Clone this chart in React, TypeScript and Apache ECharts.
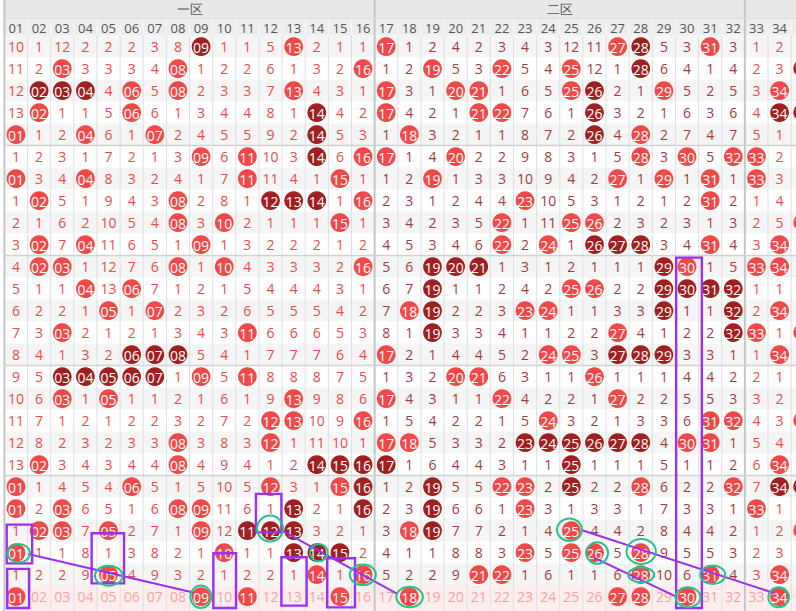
import React, { useEffect, useRef } from "react";
import * as echarts from "echarts";

// ---------- data ----------
const columnLabels = [
  "01", "02", "03", "04", "05", "06", "07", "08", "09", "10", "11", "12",
  "13", "14", "15", "16", "17", "18", "19", "20", "21", "22", "23", "24",
  "25", "26", "27", "28", "29", "30", "31", "32", "33", "34",
];
const zoneLabels = ["一区", "二区"];
const zoneFirstColumn = [1, 17];
const zoneLastColumn = [16, 32];

// One row per draw. number = omission count, R = drawn, D = drawn (dark mark)
const drawRows = [
  "10 1 12 2 2 2 3 8 D 1 1 5 R 2 1 1 R 1 2 4 2 3 4 3 12 11 R D 5 3 R 3 1 2",
  "11 2 R 3 3 3 4 R 1 2 2 6 1 3 2 R 1 2 R 5 3 R 5 4 R 12 1 D 6 4 1 4 2 3",
  "12 D D D 4 R 5 R 2 3 3 7 R 4 3 1 R 3 1 R R 1 6 5 R D 2 1 R 5 2 5 3 R",
  "13 R 1 1 5 R 6 1 3 4 4 8 1 D 4 2 R 4 2 1 R R 7 6 1 D 3 2 1 6 3 6 4 D",
  "R 1 2 R 6 1 R 2 4 5 5 9 2 D 5 3 1 R 3 2 1 1 8 7 2 D 4 R 2 7 4 7 5 1",
  "1 2 3 1 7 2 1 3 R 6 R 10 3 D 6 R R 1 4 R 2 2 9 8 3 1 5 R 3 R 5 R R 2",
  "R 3 4 R 8 3 2 4 1 7 R 11 4 1 R 1 1 2 R 1 3 3 10 9 4 2 R 1 R 1 R 1 R 3",
  "1 R 5 1 9 4 3 R 2 8 1 D D D 1 R 2 3 1 2 4 4 R 10 5 3 1 2 1 2 R 2 1 4",
  "2 1 6 2 10 5 4 R 3 R 2 1 1 1 R 1 3 4 2 3 5 R 1 11 R R 2 3 2 3 1 3 2 5",
  "3 R 7 R 11 6 5 1 R 1 3 2 2 2 1 2 4 5 3 4 6 R 2 R 1 D D D 3 4 R 4 3 R",
  "4 R R 1 12 7 6 R 1 R 4 3 3 3 2 R 5 6 D D D 1 3 1 2 1 1 1 D R 1 5 R R",
  "5 1 1 R 13 R 7 1 2 1 5 4 4 4 3 1 6 7 D 1 1 2 4 2 R R 2 2 D D D D 1 1",
  "6 2 2 1 R 1 R 2 3 2 6 5 5 5 4 2 7 R D 2 2 3 R R 1 1 3 3 D 1 1 D 2 R",
  "7 3 R 2 1 2 1 3 4 3 R 6 6 6 5 3 8 1 D 3 3 4 1 1 2 2 R 4 1 2 2 D R 1",
  "8 4 1 3 2 D D D 5 4 1 7 7 7 6 4 R 2 1 4 4 5 2 R R 3 D D D 3 3 1 1 R",
  "9 5 D D D D D 1 R 5 R 8 8 8 7 5 1 3 2 R R 6 3 1 1 R 1 1 1 4 4 2 2 1",
  "10 6 R 1 R 1 1 2 1 6 1 9 R 9 8 6 R 4 3 1 1 R 4 2 2 1 R 2 2 5 5 3 3 2",
  "11 7 1 2 1 2 2 3 2 7 2 R R 10 9 R 1 5 4 2 2 1 5 R 3 2 1 3 3 6 R R 4 3",
  "12 8 2 3 2 3 3 R 3 8 3 R 1 11 10 1 R R 5 3 3 2 D D D D D D 4 R R 1 5 4",
  "13 R 3 4 3 4 4 R 4 9 4 1 2 D D D D 1 6 4 4 3 1 1 D 1 1 1 5 1 1 2 6 R",
  "R 1 4 5 4 R 5 1 5 10 5 R 3 1 R D 1 2 D 5 5 R R 2 D 2 2 R 6 2 2 R 7 D",
  "R 2 R 6 5 1 6 R R 11 6 1 D 2 1 D 2 3 D 6 6 1 R 3 1 3 3 1 7 3 3 1 R 1",
  "1 R R 7 R 2 7 1 R 12 D D D 3 2 1 3 R D 7 7 2 1 4 R 4 4 2 8 4 4 2 1 2",
  "R 1 1 8 1 3 8 2 1 R 1 1 D D D 2 4 1 1 8 8 3 R 5 R R 5 R 9 5 5 3 2 3",
  "1 2 2 9 R 4 9 3 2 1 2 2 1 R 1 R 5 2 2 9 R R 1 6 1 1 6 R 10 6 R 4 3 R",
];
// last (projection) row: picked numbers
const nextRowHits = [1, 9, 11, 15, 18, 27, 28, 30, 34];
// column 35 is cut by the right edge; only its marks peek in
const edgeColumnHits: [number, string][] = [
  [2, "D"], [4, "D"], [9, "R"], [14, "R"], [18, "R"], [21, "D"], [23, "R"],
];

// hand-drawn annotations, in (column, row) units
const boxNotes = [
  [0.6, 1.7, 22.73, 24.49],
  [0.62, 1.57, 24.74, 26.52],
  [4.27, 5.67, 23.12, 25.4],
  [9.53, 10.51, 24.03, 26.52],
  [11.37, 12.47, 21.33, 23.08],
  [12.47, 13.56, 24.21, 26.41],
  [14.45, 15.65, 24.26, 26.49],
  [29.53, 30.64, 10.59, 26.52],
];
const ringNotes = [
  [1.12, 24.03, 11.3, 9.3],
  [5.01, 25.05, 13.8, 10],
  [8.99, 26.01, 10.5, 11.2],
  [11.98, 22.91, 13, 13],
  [14.09, 24.0, 9, 8.7],
  [15.99, 25.01, 13, 10.3],
  [18.01, 26.02, 13.3, 10.3],
  [24.92, 22.96, 12.5, 11.2],
  [26.12, 24.02, 10.8, 10.8],
  [28.02, 23.95, 14.7, 12.5],
  [28.02, 25.01, 13, 7.5],
  [30.04, 26.03, 12.5, 10],
  [31.11, 25.01, 12.5, 9.2],
  [33.96, 26.03, 10.3, 10],
];
const lineNotes = [
  [1.53, 24.06, 8.66, 25.81],
  [12.44, 22.97, 17.48, 25.88],
  [25.43, 22.97, 33.79, 25.85],
  [26.0, 24.24, 29.53, 26.0],
];

// ---------- styles ----------
const FONT = '"Open Sans", "Noto Sans", sans-serif';
const HIT = "#f34848";
const DARK = "#a21f1f";
const ZONE1_TEXT = "#ee4a4a";
const ZONE2_TEXT = "#a53b3b";
const NEXT_TEXT = "#f6a4a4";
const NEXT_BG = "#fdeeed";
const STRIPE = "#f5f5f5";
const HEAD_BG1 = "#e8e8e8";
const HEAD_BG2 = "#ededed";
const HEAD_TEXT = "#555555";
const THIN_LINE = "#e0e0e0";
const THICK_LINE = "#c6c6c6";
const PURPLE = "#9d2ff0";
const GREEN = "#22c48c";

const NCOLS = 34; // columns inside the axis; column 35 is extrapolated past the edge
const NROWS = 26;
const COL_W = 23.14;
const ROW_H = 22;
const GRID_LEFT = 4.4;
const GRID_TOP = 35.6;
const NUM_ROW_H = 17.1;

type Cell = { col: number; row: number; kind: string; text: string };
const cells: Cell[] = [];
drawRows.forEach((line, ri) => {
  line.split(" ").forEach((tok, ci) => {
    const col = ci + 1;
    const row = ri + 1;
    if (tok === "R") cells.push({ col, row, kind: "hit", text: columnLabels[ci] });
    else if (tok === "D") cells.push({ col, row, kind: "dark", text: columnLabels[ci] });
    else cells.push({ col, row, kind: "miss", text: tok });
  });
});
columnLabels.forEach((lab, ci) => {
  const col = ci + 1;
  cells.push({ col, row: drawRows.length + 1, kind: nextRowHits.includes(col) ? "hit" : "next", text: lab });
});
edgeColumnHits.forEach(([row, k]) => {
  cells.push({ col: 35, row, kind: k === "D" ? "dark" : "hit", text: "35" });
});

function missColor(col: number) {
  return col >= 17 && col <= 32 ? ZONE2_TEXT : ZONE1_TEXT;
}

export default function App() {
  const ref = useRef<HTMLDivElement>(null);
  useEffect(() => {
    if (!ref.current) return;
    const chart = echarts.init(ref.current, null, { renderer: "svg" });
    const one = [[1, 1]];
    const option: any = {
      animation: false,
      grid: { left: GRID_LEFT, top: GRID_TOP, width: NCOLS * COL_W, height: NROWS * ROW_H },
      xAxis: { type: "value", min: 0.5, max: NCOLS + 0.5, show: false },
      yAxis: { type: "value", min: 0.5, max: NROWS + 0.5, inverse: true, show: false },
      series: [
        {
          type: "custom",
          z: 1,
          silent: true,
          data: one,
          renderItem: (params: any, api: any) => {
            const W = api.getWidth();
            const H = api.getHeight();
            const left = api.coord([0.5, 1])[0];
            const top = api.coord([1, 0.5])[1];
            const h = api.size([1, 1])[1];
            const children: any[] = [
              { type: "rect", shape: { x: left, y: 0, width: W - left, height: top - NUM_ROW_H }, style: { fill: HEAD_BG1 } },
              { type: "rect", shape: { x: left, y: top - NUM_ROW_H, width: W - left, height: NUM_ROW_H }, style: { fill: HEAD_BG2 } },
            ];
            for (let r = 1; r <= NROWS; r++) {
              const yc = api.coord([1, r])[1];
              const y = yc - h / 2;
              if (r === NROWS) {
                children.push({ type: "rect", shape: { x: left, y, width: W - left, height: H - y }, style: { fill: NEXT_BG } });
              } else if (r % 2 === 1) {
                children.push({ type: "rect", shape: { x: left, y, width: W - left, height: h }, style: { fill: STRIPE } });
              }
            }
            return { type: "group", children };
          },
        },
        {
          type: "custom",
          z: 2,
          silent: true,
          data: one,
          renderItem: (params: any, api: any) => {
            const W = api.getWidth();
            const H = api.getHeight();
            const top = api.coord([1, 0.5])[1];
            const left = api.coord([0.5, 1])[0];
            const children: any[] = [];
            for (let i = 0; i <= NCOLS + 1; i++) {
              const b = i + 0.5;
              const x = api.coord([b, 1])[0];
              const thick = b === 0.5 || zoneLastColumn.includes(b - 0.5);
              if (thick) {
                children.push({ type: "line", shape: { x1: x, y1: 0, x2: x, y2: H }, style: { stroke: THICK_LINE, lineWidth: 2 } });
              } else {
                children.push({ type: "line", shape: { x1: x, y1: top - NUM_ROW_H, x2: x, y2: top }, style: { stroke: "#f8f8f8", lineWidth: 1 } });
                children.push({ type: "line", shape: { x1: x, y1: top, x2: x, y2: H }, style: { stroke: THIN_LINE, lineWidth: 1 } });
              }
            }
            [5.5, 10.5, 15.5, 20.5].forEach((rb) => {
              const y = api.coord([1, rb])[1];
              children.push({ type: "line", shape: { x1: left, y1: y, x2: W, y2: y }, style: { stroke: "#d2d2d2", lineWidth: 1.5 } });
            });
            children.push({ type: "line", shape: { x1: left, y1: top - NUM_ROW_H, x2: W, y2: top - NUM_ROW_H }, style: { stroke: "#dcdcdc", lineWidth: 1 } });
            return { type: "group", children };
          },
        },
        {
          type: "custom",
          z: 3,
          silent: true,
          data: one,
          renderItem: (params: any, api: any) => {
            const top = api.coord([1, 0.5])[1];
            const children: any[] = [];
            columnLabels.forEach((lab, ci) => {
              const x = api.coord([ci + 1, 1])[0];
              children.push({
                type: "text",
                x,
                y: top - 7.6,
                style: { text: lab, align: "center", verticalAlign: "middle", fill: HEAD_TEXT, font: `13px ${FONT}` },
              });
            });
            zoneLabels.forEach((z, i) => {
              const x = api.coord([(zoneFirstColumn[i] + zoneLastColumn[i]) / 2, 1])[0];
              children.push({
                type: "text",
                x,
                y: (top - NUM_ROW_H) / 2,
                style: { text: z, align: "center", verticalAlign: "middle", fill: HEAD_TEXT, font: `13px ${FONT}` },
              });
            });
            return { type: "group", children };
          },
        },
        {
          type: "custom",
          z: 4,
          silent: true,
          data: cells.map((c) => [c.col, c.row]),
          renderItem: (params: any, api: any) => {
            const c = cells[params.dataIndex];
            const [x, y] = api.coord([c.col, c.row]);
            if (c.kind === "miss" || c.kind === "next") {
              return {
                type: "text",
                x,
                y,
                style: {
                  text: c.text,
                  align: "center",
                  verticalAlign: "middle",
                  fill: c.kind === "next" ? NEXT_TEXT : missColor(c.col),
                  font: `14px ${FONT}`,
                },
              };
            }
            return {
              type: "group",
              children: [
                { type: "circle", shape: { cx: x, cy: y, r: 9.4 }, style: { fill: c.kind === "dark" ? DARK : HIT } },
                {
                  type: "text",
                  x,
                  y: y + 0.5,
                  style: { text: c.text, align: "center", verticalAlign: "middle", fill: "#ffffff", font: `14px ${FONT}` },
                },
              ],
            };
          },
        },
        {
          type: "custom",
          z: 5,
          silent: true,
          data: one,
          renderItem: (params: any, api: any) => {
            const children: any[] = [];
            boxNotes.forEach(([c1, c2, r1, r2]) => {
              const [x1, y1] = api.coord([c1, r1]);
              const [x2, y2] = api.coord([c2, r2]);
              children.push({
                type: "rect",
                shape: { x: x1, y: y1, width: x2 - x1, height: y2 - y1 },
                style: { fill: "none", stroke: PURPLE, lineWidth: 2.4 },
              });
            });
            lineNotes.forEach(([c1, r1, c2, r2]) => {
              const [x1, y1] = api.coord([c1, r1]);
              const [x2, y2] = api.coord([c2, r2]);
              children.push({ type: "line", shape: { x1, y1, x2, y2 }, style: { stroke: PURPLE, lineWidth: 2 } });
            });
            ringNotes.forEach(([c, r, rx, ry]) => {
              const [x, y] = api.coord([c, r]);
              children.push({
                type: "ellipse",
                shape: { cx: x, cy: y, rx, ry },
                style: { fill: "none", stroke: GREEN, lineWidth: 2 },
              });
            });
            return { type: "group", children };
          },
        },
      ],
    };
    chart.setOption(option);
    return () => chart.dispose();
  }, []);
  return (
    <div
      ref={ref}
      style={{ position: "fixed", left: 0, top: 0, width: 796, height: 611, background: "#ffffff" }}
    />
  );
}
